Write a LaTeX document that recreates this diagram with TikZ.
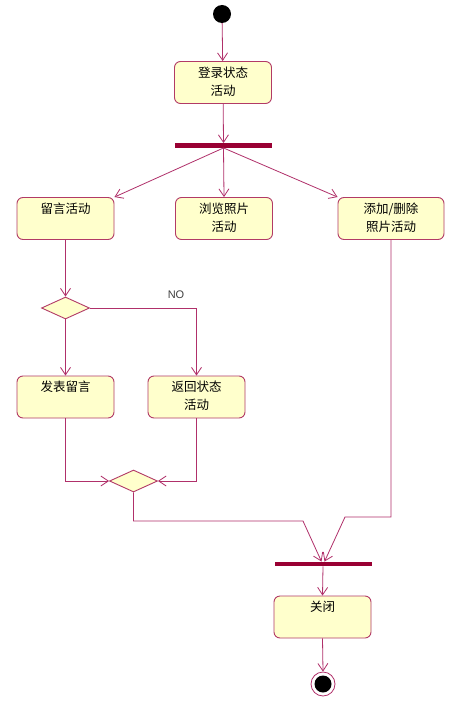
\documentclass[tikz,border=0pt]{standalone}
\usepackage{fontspec}
\setmainfont{Liberation Sans}
\newfontfamily\cjk{Noto Sans CJK SC}
\usetikzlibrary{arrows.meta,shapes.geometric}
\definecolor{linec}{HTML}{B0306A}
\definecolor{boxc}{HTML}{B23A66}
\definecolor{boxfill}{HTML}{FFFFCC}
\definecolor{barc}{HTML}{990033}
\tikzset{
  actbox/.style={rectangle, rounded corners=6pt, draw=boxc, fill=boxfill, line width=0.9pt,
    minimum width=97pt, minimum height=42pt, inner sep=0pt},
  acttxt/.style={anchor=north, inner sep=0pt, align=center, font=\cjk\fontsize{12.5}{18}\selectfont},
  decbox/.style={diamond, draw=boxc, fill=boxfill, line width=0.9pt, inner sep=0pt,
    minimum width=48pt, minimum height=22pt, shape aspect=2.2},
  barnode/.style={rectangle, fill=barc, inner sep=0pt, minimum width=97pt, minimum height=4.5pt},
  flow/.style={draw=linec, line width=0.8pt, -{Straight Barb[length=7.5pt,width=10pt,line width=0.8pt]}},
  plain/.style={draw=linec, line width=0.8pt}
}
\begin{document}
\begin{tikzpicture}[x=1pt,y=-1pt]
\useasboundingbox[fill=white] (0,0) rectangle (452,706);
% nodes
\node[circle, fill=black, inner sep=0pt, minimum size=18pt] (start) at (222,14) {};
\node[actbox] (login) at (223,82.5) {};
\node[acttxt] (loginT) at ([yshift=-5.5pt]login.north) {登录状态\\活动};
\node[barnode] (fork) at (223.5,145.5) {};
\node[actbox] (msg) at (65.5,218.5) {};
\node[acttxt] (msgT) at ([yshift=-5.5pt]msg.north) {留言活动};
\node[actbox] (browse) at (224,218.5) {};
\node[acttxt] (browseT) at ([yshift=-5.5pt]browse.north) {浏览照片\\活动};
\node[actbox, minimum width=106pt] (edit) at (391,218.5) {};
\node[acttxt] (editT) at ([yshift=-5.5pt]edit.north) {添加/删除\\照片活动};
\node[decbox] (dec1) at (65.5,308) {};
\node[font=\fontsize{11}{13}\selectfont, text=black!75] (no) at (176,295) {NO};
\node[actbox] (post) at (65.5,397) {};
\node[acttxt] (postT) at ([yshift=-5.5pt]post.north) {发表留言};
\node[actbox] (ret) at (196.5,397) {};
\node[acttxt] (retT) at ([yshift=-5.5pt]ret.north) {返回状态\\活动};
\node[decbox] (dec2) at (133.5,481) {};
\node[barnode] (join) at (323,564) {};
\node[actbox] (close) at (322.5,617) {};
\node[acttxt] (closeT) at ([yshift=-5.5pt]close.north) {关闭};
\node[circle, draw=linec, line width=0.8pt, fill=white, inner sep=0pt, minimum size=24pt] (end) at (323,684) {};
\node[circle, fill=black, inner sep=0pt, minimum size=17pt] (endin) at (end.center) {};
% helper coordinates
\coordinate (m1) at (133.5,521);
\coordinate (m2) at (303,521);
\coordinate (e1) at (391,517);
\coordinate (e2) at (345,517);
% connectors
\draw[flow] (start) -- (login);
\draw[flow] (login) -- (fork.north);
\draw[flow] (fork.south) -- (msg.north east);
\draw[flow] (fork.south) -- (browse.north);
\draw[flow] (fork.south) -- (edit.north west);
\draw[flow] (msg) -- (dec1.north);
\draw[flow] (dec1.east) -| (ret.north);
\draw[flow] (dec1.south) -- (post.north);
\draw[flow] (post.south) |- (dec2.west);
\draw[flow] (ret.south) |- (dec2.east);
\draw[flow] (dec2.south) -- (m1) -- (m2) -- ([xshift=-1.5pt]join.north);
\draw[flow] (edit.south) -- (e1) -- (e2) -- ([xshift=1.5pt]join.north);
\draw[flow] (join.south) -- (close.north);
\draw[flow] (close.south) -- (end.north);
\end{tikzpicture}
\end{document}
